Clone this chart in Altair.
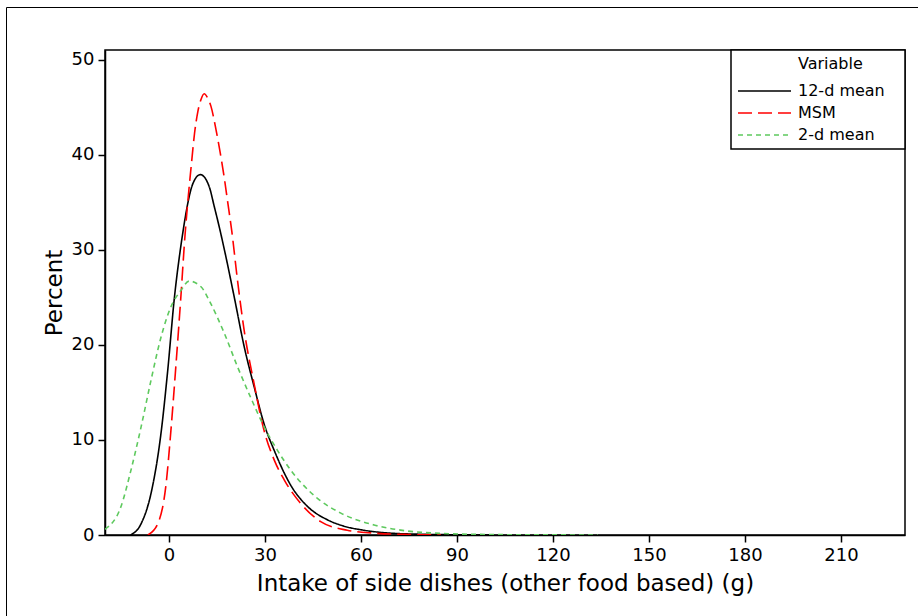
import altair as alt
import pandas as pd

series_names = ["12-d mean", "MSM", "2-d mean"]

x_12d = [-12, -8.7, -5.6, -2.5, -0.4, 1.7, 3.5, 4.6, 5.6, 7.4, 9.8, 12.6, 14.1, 15.7, 17.5,
         20.4, 23.5, 26.6, 29.7, 33, 38.1, 43.3, 49.5, 55, 60, 69, 80, 90, 100]
y_12d = [0, 1.2, 4.4, 10.7, 17.3, 25, 29.9, 32.4, 34.4, 36.9, 37.9, 36.6, 34.6, 32.4, 29.7,
         25.0, 19.8, 15.6, 11.7, 8.8, 5.2, 3.0, 1.6, 0.9, 0.55, 0.2, 0.07, 0.02, 0]

x_msm = [-6.6, -3.5, -0.9, 0.6, 2.2, 3.7, 5.0, 6.0, 7.0, 8.0, 9.0, 10.0, 11.0, 12.0, 13.1,
         14.7, 16.0, 17.3, 18.3, 19.6, 21.4, 23.5, 26.6, 29.7, 33, 36, 41.2, 47.4, 55.7, 64,
         75, 85]
y_msm = [0, 1.2, 5.4, 11.0, 18.0, 25, 31.5, 35.5, 39.0, 42.3, 44.5, 45.8, 46.4, 46.0, 45.1,
         42.6, 40.2, 37.5, 35.1, 32.0, 26.8, 21.5, 15.9, 11.0, 7.8, 5.8, 3.3, 1.4, 0.5, 0.2,
         0.05, 0]

x_2d = [-20, -15, -11.9, -8.7, -5.6, -2.5, 0.6, 3.7, 6.3, 10, 13.1, 17.3, 21.4, 25.6, 29.7,
        33.9, 38.1, 46.4, 53.7, 64.1, 74.5, 84.9, 100, 115, 134]
y_2d = [0.6, 3.0, 6.8, 11.4, 16.3, 20.8, 24.0, 25.7, 26.7, 26.1, 24.3, 21.2, 17.7, 14.4, 11.4,
        8.9, 6.8, 3.85, 2.3, 1.05, 0.42, 0.17, 0.05, 0.02, 0]

x_ticks = [0, 30, 60, 90, 120, 150, 180, 210]
y_ticks = [0, 10, 20, 30, 40, 50]

rows = []
for name, xs, ys in zip(series_names, [x_12d, x_msm, x_2d], [y_12d, y_msm, y_2d]):
    for i, (a, b) in enumerate(zip(xs, ys)):
        rows.append({"Variable": name, "x": a, "y": b, "i": i})
df = pd.DataFrame(rows)

FONT = "DejaVu Sans"

color_scale = alt.Scale(domain=series_names, range=["#000000", "#ff0000", "#5ec95e"])
dash_scale = alt.Scale(domain=series_names, range=[[1, 0], [14, 6], [5, 4]])

legend_title = "\u200b" + "\u00a0" * 12 + "Variable" + "\u00a0" * 7 + "\u200b"
legend = alt.Legend(title=legend_title, orient="top-right", offset=0)

lines = alt.Chart(df).mark_line(strokeWidth=1.6, interpolate="monotone", clip=True).encode(
    x=alt.X("x:Q",
            scale=alt.Scale(domain=[-20, 230], nice=False, zero=False),
            axis=alt.Axis(values=x_ticks, title="Intake of side dishes (other food based) (g)")),
    y=alt.Y("y:Q",
            scale=alt.Scale(domain=[0, 51], nice=False),
            axis=alt.Axis(values=y_ticks, title="Percent")),
    color=alt.Color("Variable:N", scale=color_scale, legend=legend),
    strokeDash=alt.StrokeDash("Variable:N", scale=dash_scale, legend=legend),
    order=alt.Order("i:Q"),
)

border = alt.Chart(pd.DataFrame({"a": [0]})).mark_rect(
    filled=False, stroke="black", strokeWidth=1
).encode(
    x=alt.value(-98.5), x2=alt.value(1000), y=alt.value(-42.5), y2=alt.value(700)
)

chart = alt.layer(border, lines).properties(
    width=800,
    height=485,
    autosize=alt.AutoSizeParams(type="none"),
    padding={"left": 105, "top": 50, "right": 13, "bottom": 81},
    background="white",
).configure_view(
    stroke="black", strokeWidth=1.5
).configure_axis(
    grid=False,
    domainColor="black", domainWidth=1.5,
    tickColor="black", tickWidth=1.5, tickSize=7,
    labelFont=FONT, labelFontSize=18, labelColor="black", labelPadding=4,
    titleFont=FONT, titleFontSize=23, titleFontWeight="normal", titleColor="black",
).configure_axisX(
    titlePadding=8,
).configure_axisY(
    titlePadding=5,
).configure_legend(
    labelFont=FONT, labelFontSize=16, labelColor="black",
    titleFont=FONT, titleFontSize=16, titleFontWeight="normal", titleColor="black",
    titleAnchor="start", titlePadding=12, titleLimit=400,
    strokeColor="black", strokeWidth=1.5, fillColor="white",
    padding=6, symbolType="stroke", symbolSize=2809, symbolStrokeWidth=1.6,
    labelOffset=6, clipHeight=14, rowPadding=6,
)

chart.save("out.html", embed_options={"renderer": "svg", "actions": False})
